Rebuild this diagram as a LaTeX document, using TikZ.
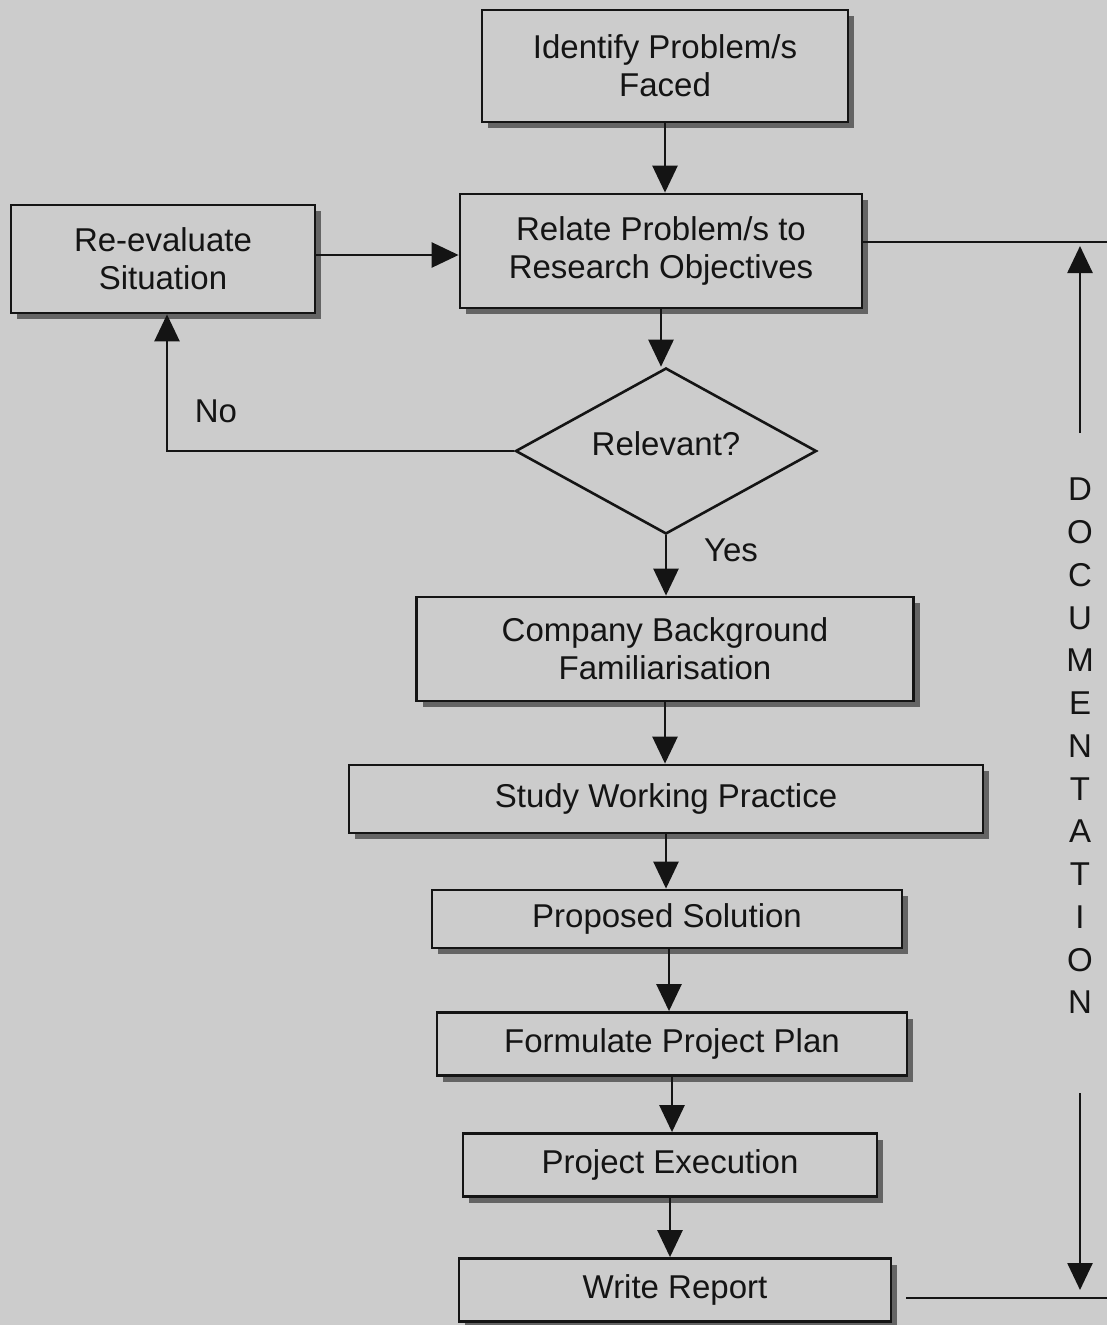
\documentclass[tikz,border=0pt]{standalone}
\usepackage{fontspec}
\setmainfont{Liberation Sans}
\usetikzlibrary{shapes.geometric,shadows,arrows.meta}
\definecolor{paper}{RGB}{204,204,204}
\definecolor{shade}{RGB}{100,100,100}
\definecolor{ink}{RGB}{20,20,20}
\begin{document}
\begin{tikzpicture}[x=1pt,y=-1pt,
  every node/.style={font=\fontsize{33}{38}\selectfont, text=ink},
  pbox/.style={draw=ink, line width=2.8pt, fill=paper, align=center, inner sep=0pt,
    drop shadow={shadow xshift=6pt, shadow yshift=-6pt, fill=shade, opacity=1}},
  decision/.style={diamond, draw=ink, line width=2.6pt, fill=paper, inner sep=0pt},
  flow/.style={draw=ink, line width=2.6pt, -{Triangle[length=27pt,width=25pt]}},
  plain/.style={draw=ink, line width=2.6pt}]
  \fill[paper] (0,0) rectangle (1107,1325);
  \useasboundingbox (0,0) rectangle (1107,1325);

  % process steps
  \node[pbox, minimum width=366pt, minimum height=112pt] (ident) at (665,66) {Identify Problem/s\\Faced};
  \node[pbox, minimum width=402pt, minimum height=114pt] (relate) at (661,251) {Relate Problem/s to\\Research Objectives};
  \node[pbox, minimum width=304pt, minimum height=108pt] (reeval) at (163,259) {Re-evaluate\\Situation};
  \node[decision, minimum width=301pt, minimum height=166pt,
        label={[text=ink, yshift=7pt]center:Relevant?}] (relev) at (666,451) {};
  \node[pbox, minimum width=497pt, minimum height=104pt] (company) at (665,649) {Company Background\\Familiarisation};
  \node[pbox, minimum width=634pt, minimum height=68pt] (study) at (666,799) {Study Working Practice};
  \node[pbox, minimum width=470pt, minimum height=58pt] (propose) at (667,919) {Proposed Solution};
  \node[pbox, minimum width=470pt, minimum height=63pt] (plan) at (672,1044) {Formulate Project Plan};
  \node[pbox, minimum width=414pt, minimum height=63pt] (exec) at (670,1165) {Project Execution};
  \node[pbox, minimum width=432pt, minimum height=63pt] (report) at (675,1290) {Write Report};

  % labels
  \node (no) at (216,411) {No};
  \node (yes) at (731,550) {Yes};
  \node[align=center, font=\fontsize{33}{42.75}\selectfont] (docu) at (1080,746)
    {D\\O\\C\\U\\M\\E\\N\\T\\A\\T\\I\\O\\N};

  % main flow
  \draw[flow] (ident.south) -- (ident.south |- relate.north);
  \draw[flow] (relate.south) -- (relate.south |- relev.north);
  \draw[flow] (relev.south) -- (relev.south |- company.north);
  \draw[flow] (company.south) -- (company.south |- study.north);
  \draw[flow] (study.south) -- (study.south |- propose.north);
  \draw[flow] ([xshift=2pt]propose.south) -- ([xshift=2pt]propose.south |- plan.north);
  \draw[flow] (plan.south) -- (plan.south |- exec.north);
  \draw[flow] (exec.south) -- (exec.south |- report.north);

  % rejection loop
  \draw[flow] ([yshift=4pt]reeval.east) -- ([yshift=4pt]reeval.east -| relate.west);
  \draw[flow] (relev.west) -| ([xshift=4pt]reeval.south);

  % documentation bracket
  \coordinate (topend) at (1107,242);
  \coordinate (botend) at (1107,1298);
  \coordinate (upfrom) at (1080,433);
  \coordinate (upto) at (1080,246);
  \coordinate (downfrom) at (1080,1093);
  \coordinate (downto) at (1080,1290);
  \draw[plain] ([yshift=9pt]relate.east) -- (topend);
  \draw[plain] ([xshift=14pt,yshift=-8pt]report.east) -- (botend);
  \draw[flow] (upfrom) -- (upto);
  \draw[flow] (downfrom) -- (downto);
\end{tikzpicture}
\end{document}
